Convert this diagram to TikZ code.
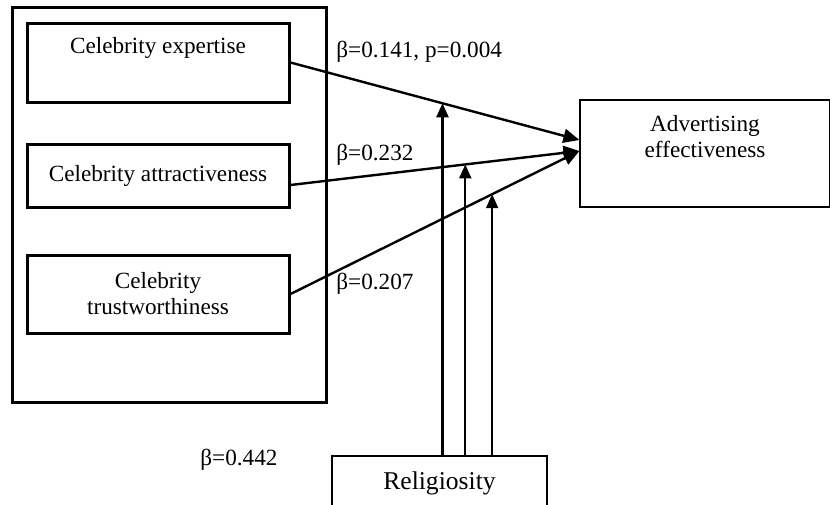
\documentclass[tikz,border=0pt]{standalone}
\usepackage{fontspec}
\setmainfont{Liberation Serif}
\usetikzlibrary{arrows.meta}

\def\thefont{\fontsize{11.6}{13}\selectfont}

\begin{document}
\begin{tikzpicture}[
    x=0.5pt,y=-0.5pt,
    every node/.style={font=\thefont},
    thebox/.style={draw,line width=1.5pt,minimum width=131pt,align=center,inner sep=0pt},
    thinbox/.style={draw,line width=0.6pt,align=center,inner sep=0pt},
    thepath/.style={line width=1.2pt,-{Triangle[length=8pt,width=7pt]}},
    themod/.style={line width=1.1pt,-{Triangle[length=7pt,width=6pt]}},
    thelabel/.style={anchor=west,inner sep=0pt}
    ]

    \useasboundingbox (0,0) rectangle (830,504);

    \node[draw,line width=1.5pt,minimum width=157pt,minimum height=197.5pt,inner sep=0pt]
      (group) at (169,204.5) {};
    \node[thebox,minimum height=39.5pt] (exp) at (158,62.5) {Celebrity expertise\\ \strut};
    \node[thebox,minimum height=31.5pt] (att) at (158,175.5) {Celebrity attractiveness};
    \node[thebox,minimum height=39pt] (tru) at (158,294) {Celebrity\\trustworthiness};

    \node[thinbox,minimum width=125pt,minimum height=53.5pt] (adv) at (705,153.5)
      {Advertising\\effectiveness\\ \strut};
    \node[thinbox,minimum width=107.5pt,minimum height=27pt,font=\fontsize{12.8}{14}\selectfont]
      (rel) at (439.5,483) {Religiosity};

    \draw[thepath] (exp.east) -- coordinate[pos=0.526] (m1) ([yshift=6.75pt]adv.west);
    \draw[thepath] ([yshift=-4.75pt]att.east) -- coordinate[pos=0.605] (m2) ([yshift=1.25pt]adv.west);
    \draw[thepath] (tru.east) -- coordinate[pos=0.698] (m3) ([yshift=1.25pt]adv.west);

    \foreach \m in {m1,m2,m3} {
      \draw[themod] (\m |- rel.north) -- (\m);
    }

    \node[thelabel] (b1) at (336,52) {β=0.141, p=0.004};
    \node[thelabel] (b2) at (336,155) {β=0.232};
    \node[thelabel] (b3) at (336,284) {β=0.207};
    \node[thelabel] (b4) at (200,460) {β=0.442};
  \end{tikzpicture}
\end{document}
